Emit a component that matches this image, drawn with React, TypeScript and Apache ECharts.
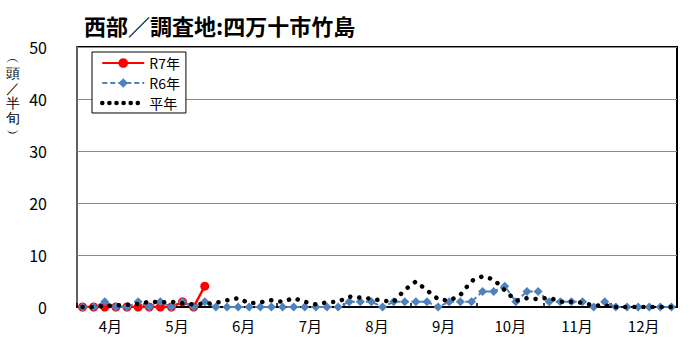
import React, { useEffect, useRef } from "react";
import * as echarts from "echarts";

const months = ["4月", "5月", "6月", "7月", "8月", "9月", "10月", "11月", "12月"];
const halfPentads = months.flatMap((m) => [1, 2, 3, 4, 5, 6].map((k) => `${m}${k}`));

const r7: (number | null)[] = [0, 0, 0, 0, 0, 0, 0, 0, 0, 1, 0, 4];
const r6: number[] = [
  0, 0, 1, 0, 0, 1, 0, 1, 0, 1, 0, 1, 0, 0, 0, 0, 0, 0,
  0, 0, 0, 0, 0, 0, 1, 1, 1, 0, 1, 1, 1, 1, 0, 1, 1, 1,
  3, 3, 4, 1, 3, 3, 1, 1, 1, 1, 0, 1, 0, 0, 0, 0, 0, 0,
];
const normal: number[] = [
  0, 0, 0.2, 0.3, 0.4, 0.6, 1.0, 0.9, 1.0, 0.7, 0.5, 0.6, 0.8, 1.3, 1.7, 0.7, 0.9, 1.3,
  1.0, 1.7, 1.0, 0.5, 0.9, 1.0, 2.0, 1.8, 1.6, 1.2, 1.0, 3.3, 4.9, 3.2, 1.5, 1.2, 2.3, 5.0,
  5.9, 5.3, 3.2, 1.2, 1.7, 1.5, 1.8, 1.0, 1.0, 0.8, 0.3, 0.3, 0, 0, 0, 0, 0, 0,
];

const titleText = "西部／調査地:四万十市竹島";
const yTitleText = "︵\n頭\n／\n半\n旬\n︶";
const FONT = "'Noto Sans CJK JP', 'Noto Sans', sans-serif";

export default function App() {
  const ref = useRef<HTMLDivElement>(null);
  useEffect(() => {
    if (!ref.current) return;
    const chart = echarts.init(ref.current, undefined, { renderer: "svg" });
    chart.setOption({
      animation: false,
      backgroundColor: "#fff",
      textStyle: { fontFamily: FONT },
      title: {
        text: titleText,
        left: 79,
        top: 9,
        textStyle: { fontSize: 22, fontWeight: "bold", color: "#000", fontFamily: FONT },
      },
      grid: {
        left: 77,
        right: 23,
        top: 47,
        bottom: 49,
        show: true,
        borderColor: "#000",
        borderWidth: 2,
        backgroundColor: "transparent",
      },
      legend: {
        orient: "vertical",
        left: 92,
        top: 52,
        itemWidth: 42,
        itemHeight: 12,
        itemGap: 6,
        backgroundColor: "#fff",
        borderColor: "#000",
        borderWidth: 1,
        borderRadius: 0,
        padding: [4, 6, 3, 8],
        textStyle: { fontSize: 14, color: "#000", fontFamily: FONT },
        data: [
          { name: "R7年" },
          { name: "R6年" },
          {
            name: "平年",
            itemStyle: { color: "transparent", borderWidth: 0, opacity: 0 },
            lineStyle: { type: [0.1, 7], cap: "round", width: 4.5, color: "#000", opacity: 1 },
          },
        ],
      },
      xAxis: [
        {
          type: "category",
          data: halfPentads,
          show: false,
          boundaryGap: true,
        },
        {
          type: "category",
          data: months,
          position: "bottom",
          boundaryGap: true,
          axisLine: { show: true, lineStyle: { color: "#000", width: 2 } },
          axisTick: { show: true, inside: true, length: 4, lineStyle: { color: "#000", width: 1.5 } },
          axisLabel: { fontSize: 15, color: "#000", margin: 11, fontFamily: FONT },
          splitLine: { show: false },
        },
      ],
      yAxis: {
        type: "value",
        min: 0,
        max: 50,
        interval: 10,
        axisLine: { show: true, lineStyle: { color: "#808080", width: 1.5 } },
        axisTick: { show: false },
        axisLabel: { fontSize: 16, color: "#000", margin: 30, fontFamily: FONT },
        splitLine: { show: true, lineStyle: { color: "#8c8c8c", width: 1 } },
      },
      graphic: [
        {
          type: "text",
          left: 6,
          top: 50,
          style: {
            text: yTitleText,
            fontSize: 14,
            lineHeight: 15,
            fill: "#000",
            font: `14px ${FONT}`,
            align: "center",
          },
        },
      ],
      series: [
        {
          name: "R7年",
          type: "line",
          xAxisIndex: 0,
          data: r7,
          symbol: "circle",
          symbolSize: 9,
          showAllSymbol: true,
          lineStyle: { color: "#ff0000", width: 2.5 },
          itemStyle: { color: "#ff0000" },
          z: 3,
        },
        {
          name: "R6年",
          type: "line",
          xAxisIndex: 0,
          data: r6,
          symbol: "diamond",
          symbolSize: 9,
          showAllSymbol: true,
          lineStyle: { color: "#4f81bd", width: 2, type: [5, 3] },
          itemStyle: { color: "#4f81bd" },
          z: 4,
        },
        {
          name: "平年",
          type: "line",
          xAxisIndex: 0,
          data: normal,
          symbol: "none",
          lineStyle: { color: "#000", width: 4.5, type: [0.1, 9], cap: "round" },
          itemStyle: { color: "#000" },
          z: 5,
        },
      ],
    });
    return () => chart.dispose();
  }, []);
  return (
    <div
      ref={ref}
      style={{ position: "absolute", left: 0, top: 0, width: 700, height: 356 }}
    />
  );
}
